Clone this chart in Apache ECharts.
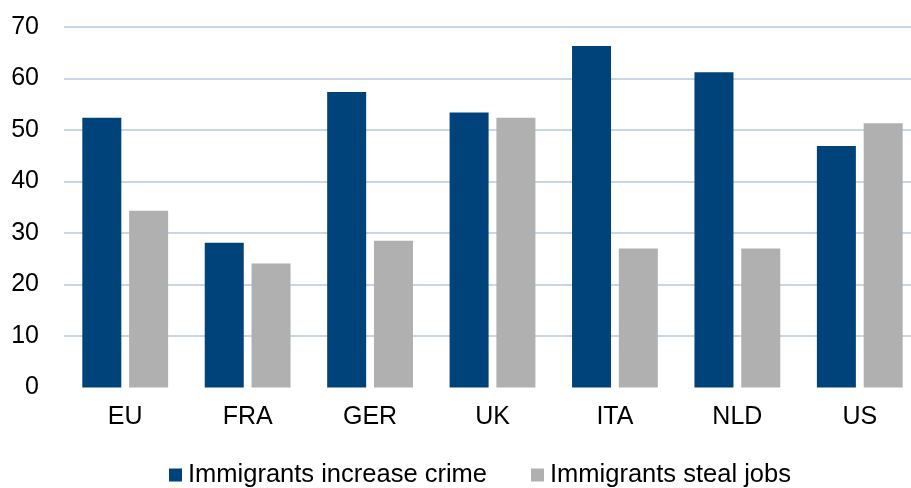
<!DOCTYPE html>
<html>
<head>
<meta charset="utf-8">
<script src="https://cdn.jsdelivr.net/npm/echarts@6/dist/echarts.min.js"></script>
<style>
  html, body { margin: 0; padding: 0; background: #fff; overflow: hidden; }
  /* the plot runs slightly past the right edge of the page */
  #chart { width: 925px; height: 488px; }
</style>
</head>
<body>
<div id="chart"></div>
<script>
// Country groups along the category axis
const countries = ['EU', 'FRA', 'GER', 'UK', 'ITA', 'NLD', 'US'];

// Share agreeing with each statement (%)
const crimeValues = [52.4, 28.1, 57.4, 53.4, 66.3, 61.2, 46.9];
const jobsValues = [34.3, 24.1, 28.5, 52.4, 27.0, 27.0, 51.3];

const seriesNames = ['Immigrants increase crime', 'Immigrants steal jobs'];
const yTicks = [0, 10, 20, 30, 40, 50, 60, 70];

const FONT = '"Liberation Sans", Arial, sans-serif';
const FS = 25;

const chart = echarts.init(document.getElementById('chart'), null, { renderer: 'canvas' });

chart.setOption({
  animation: false,
  backgroundColor: '#ffffff',
  textStyle: { fontFamily: FONT },
  grid: { left: 64, top: 27, width: 857, height: 360.5, containLabel: false },
  legend: {
    data: seriesNames,
    left: 169,
    top: 462,
    padding: 0,
    itemWidth: 13,
    itemHeight: 13,
    itemGap: 44,
    icon: 'rect',
    textStyle: { fontFamily: FONT, fontSize: 25.5, color: '#000', padding: [0, 0, 0, 1] }
  },
  xAxis: {
    type: 'category',
    data: countries,
    axisLine: { show: false },
    axisTick: { show: false },
    axisLabel: { fontFamily: FONT, fontSize: FS, color: '#000', margin: 17 }
  },
  yAxis: {
    type: 'value',
    min: yTicks[0],
    max: yTicks[yTicks.length - 1],
    interval: 10,
    axisLine: { show: false },
    axisTick: { show: false },
    axisLabel: { fontFamily: FONT, fontSize: FS, color: '#000', margin: 25 },
    splitLine: { show: true, showMinLine: false, lineStyle: { color: '#c9d6e4', width: 2 } }
  },
  series: [
    {
      name: seriesNames[0],
      type: 'bar',
      data: crimeValues,
      barWidth: 39,
      barGap: '20%',
      itemStyle: { color: '#00437a' }
    },
    {
      name: seriesNames[1],
      type: 'bar',
      data: jobsValues,
      barWidth: 39,
      barGap: '20%',
      itemStyle: { color: '#b0b0b0' }
    }
  ]
});
</script>
</body>
</html>
